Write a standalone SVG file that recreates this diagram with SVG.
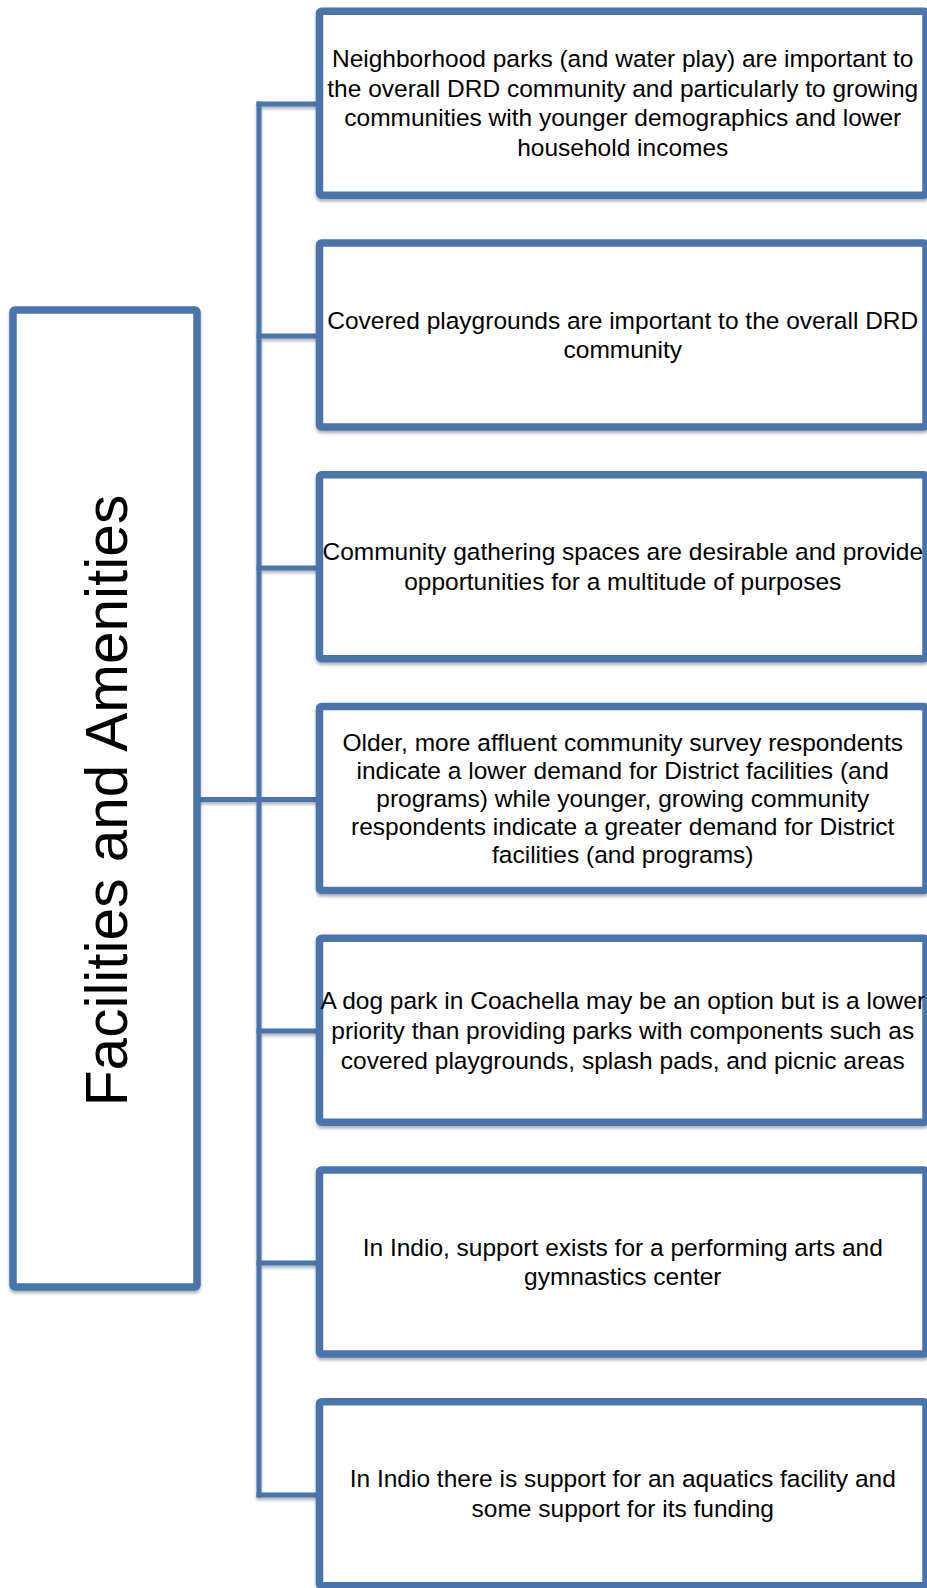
<svg xmlns="http://www.w3.org/2000/svg" width="927" height="1588" viewBox="0 0 927 1588">
<style>
.box{fill:#fff;stroke:#4874ac;stroke-width:7.5;filter:url(#sh)}
.ln{stroke:#4874ac;stroke-width:5;fill:none;stroke-linecap:square}
.t{font-family:"Liberation Sans",Arial,sans-serif;font-size:24.5px;fill:#000;text-anchor:middle}
.title{font-family:"Liberation Sans",Arial,sans-serif;font-size:58.5px;fill:#000;text-anchor:middle}
</style>
<defs>
<filter id="sh" x="-5%" y="-5%" width="110%" height="115%">
<feDropShadow dx="0" dy="2.5" stdDeviation="1.8" flood-color="#000" flood-opacity="0.3"/>
</filter>
</defs>
<rect width="927" height="1588" fill="#fff"/>
<g id="connectors" filter="url(#sh)">
<line class="ln" x1="259" y1="104" x2="259" y2="1495"/>
<line class="ln" x1="197" y1="799.5" x2="316" y2="799.5"/>
<line class="ln" x1="259" y1="104" x2="316" y2="104"/>
<line class="ln" x1="259" y1="336" x2="316" y2="336"/>
<line class="ln" x1="259" y1="568" x2="316" y2="568"/>
<line class="ln" x1="259" y1="1031" x2="316" y2="1031"/>
<line class="ln" x1="259" y1="1263" x2="316" y2="1263"/>
<line class="ln" x1="259" y1="1495" x2="316" y2="1495"/>
</g>
<g id="root">
<rect class="box" x="13" y="310" width="184" height="977" rx="2"/>
<text class="title" transform="translate(127,800.5) rotate(-90)">Facilities and Amenities</text>
</g>
<g id="n1">
<rect class="box" x="319.5" y="11.2" width="606.5" height="184" rx="2"/>
<text class="t" x="622.75" y="67">Neighborhood parks (and water play) are important to</text>
<text class="t" x="622.75" y="96.7">the overall DRD community and particularly to growing</text>
<text class="t" x="622.75" y="126.4">communities with younger demographics and lower</text>
<text class="t" x="622.75" y="156.1">household incomes</text>
</g>
<g id="n2">
<rect class="box" x="319.5" y="243" width="606.5" height="184" rx="2"/>
<text class="t" x="622.75" y="328.6">Covered playgrounds are important to the overall DRD</text>
<text class="t" x="622.75" y="358.3">community</text>
</g>
<g id="n3">
<rect class="box" x="319.5" y="474.7" width="606.5" height="184" rx="2"/>
<text class="t" x="622.75" y="560.3">Community gathering spaces are desirable and provide</text>
<text class="t" x="622.75" y="590">opportunities for a multitude of purposes</text>
</g>
<g id="n4">
<rect class="box" x="319.5" y="706.5" width="606.5" height="184" rx="2"/>
<text class="t" x="622.75" y="751">Older, more affluent community survey respondents</text>
<text class="t" x="622.75" y="779">indicate a lower demand for District facilities (and</text>
<text class="t" x="622.75" y="807">programs) while younger, growing community</text>
<text class="t" x="622.75" y="835">respondents indicate a greater demand for District</text>
<text class="t" x="622.75" y="863">facilities (and programs)</text>
</g>
<g id="n5">
<rect class="box" x="319.5" y="938.3" width="606.5" height="184" rx="2"/>
<text class="t" x="622.75" y="1009">A dog park in Coachella may be an option but is a lower</text>
<text class="t" x="622.75" y="1038.8">priority than providing parks with components such as</text>
<text class="t" x="622.75" y="1068.5">covered playgrounds, splash pads, and picnic areas</text>
</g>
<g id="n6">
<rect class="box" x="319.5" y="1170.1" width="606.5" height="184" rx="2"/>
<text class="t" x="622.75" y="1255.7">In Indio, support exists for a performing arts and</text>
<text class="t" x="622.75" y="1285.4">gymnastics center</text>
</g>
<g id="n7">
<rect class="box" x="319.5" y="1401.8" width="606.5" height="184" rx="2"/>
<text class="t" x="622.75" y="1487.4">In Indio there is support for an aquatics facility and</text>
<text class="t" x="622.75" y="1517.1">some support for its funding</text>
</g>
</svg>
